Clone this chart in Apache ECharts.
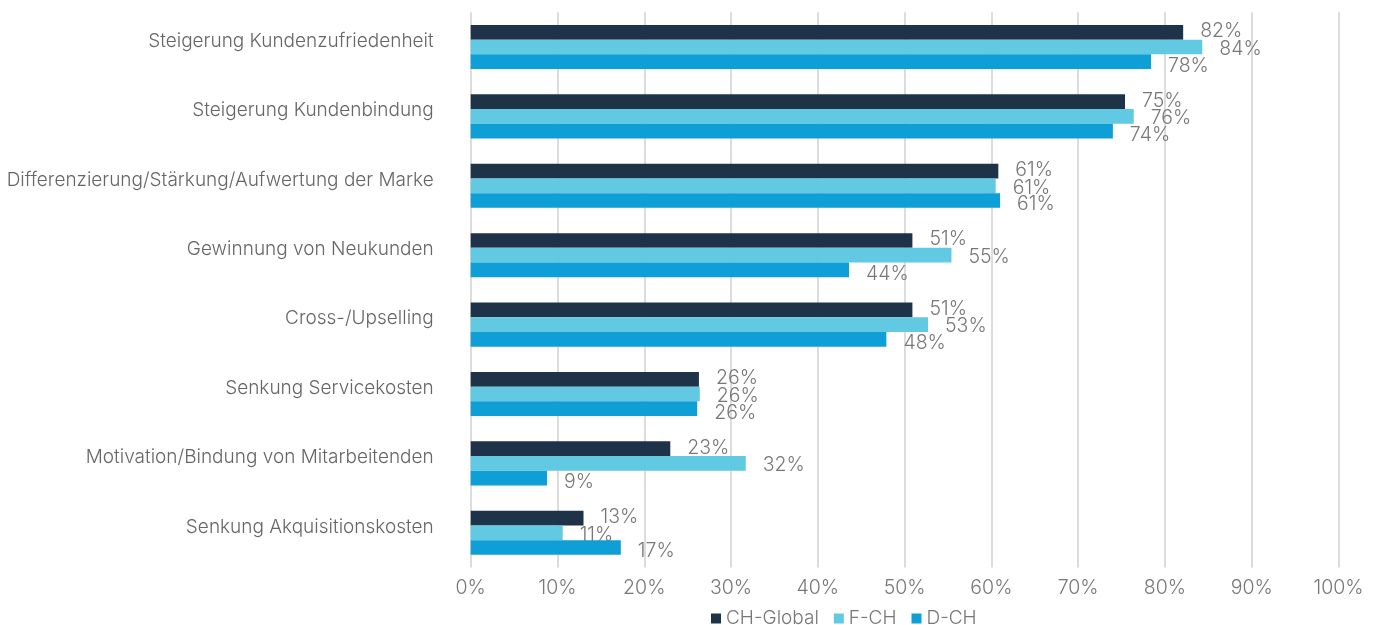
<!DOCTYPE html>
<html>
<head>
<meta charset="utf-8">
<script src="https://cdn.jsdelivr.net/npm/echarts@6/dist/echarts.min.js"></script>
<style>
  html, body { margin: 0; padding: 0; background: #ffffff; }
  #chart { width: 1385px; height: 625px; }
</style>
</head>
<body>
<div id="chart"></div>
<script>
// Ziele von Kundenbindungsmassnahmen, Anteil der Nennungen in Prozent
const categories = [
  'Steigerung Kundenzufriedenheit',
  'Steigerung Kundenbindung',
  'Differenzierung/Stärkung/Aufwertung der Marke',
  'Gewinnung von Neukunden',
  'Cross-/Upselling',
  'Senkung Servicekosten',
  'Motivation/Bindung von Mitarbeitenden',
  'Senkung Akquisitionskosten'
];
const seriesNames = ['CH-Global', 'F-CH', 'D-CH'];
const chGlobal = [82.1, 75.4, 60.8, 50.9, 50.9, 26.3, 23.0, 13.0];
const fCh      = [84.3, 76.4, 60.5, 55.4, 52.7, 26.4, 31.7, 10.6];
const dCh      = [78.4, 74.0, 61.0, 43.6, 47.9, 26.1, 8.8, 17.3];
const xTicks = { min: 0, max: 100, interval: 10 };

const FONT = 'Inter, "Liberation Sans", sans-serif';
const colors = ['#1f3348', '#61c9e2', '#0d9fd6'];
const labelShift = [-1, 2, 4];

const chart = echarts.init(document.getElementById('chart'), null, { renderer: 'canvas' });

const seriesData = [chGlobal, fCh, dCh];
const series = seriesData.map((values, i) => ({
  name: seriesNames[i],
  type: 'bar',
  data: values,
  barWidth: 14.7,
  barGap: '0%',
  itemStyle: { color: colors[i] },
  label: {
    show: true,
    position: 'right',
    distance: 17,
    offset: [0, labelShift[i]],
    color: '#777777',
    fontFamily: FONT,
    fontWeight: 300,
    fontSize: 19.5,
    formatter: p => Math.round(p.value) + '%'
  },
  emphasis: { disabled: true }
}));

chart.setOption({
  animation: false,
  color: colors,
  grid: {
    left: 470.7, right: 46.5, top: 12.3, bottom: 57.5,
    containLabel: false,
    outerBoundsMode: 'none'
  },
  legend: {
    data: seriesNames,
    left: 706,
    top: 604,
    icon: 'rect',
    itemWidth: 10,
    itemHeight: 10,
    itemGap: 15,
    textStyle: { color: '#777777', fontFamily: FONT, fontWeight: 300, fontSize: 19 }
  },
  xAxis: {
    type: 'value',
    min: xTicks.min,
    max: xTicks.max,
    interval: xTicks.interval,
    axisLine: { show: false },
    axisTick: { show: false },
    splitLine: { show: true, lineStyle: { color: '#dcdcdc', width: 2 } },
    axisLabel: {
      formatter: '{value}%',
      margin: 11,
      color: '#777777',
      fontFamily: FONT,
      fontWeight: 300,
      fontSize: 19.5
    }
  },
  yAxis: {
    type: 'category',
    data: categories,
    inverse: true,
    axisLine: { show: false },
    axisTick: { show: false },
    splitLine: { show: false },
    axisLabel: {
      margin: 37,
      color: '#666666',
      fontFamily: FONT,
      fontWeight: 300,
      fontSize: 19,
      verticalAlign: 'bottom',
      lineHeight: 12
    }
  },
  series: series
});
</script>
</body>
</html>
